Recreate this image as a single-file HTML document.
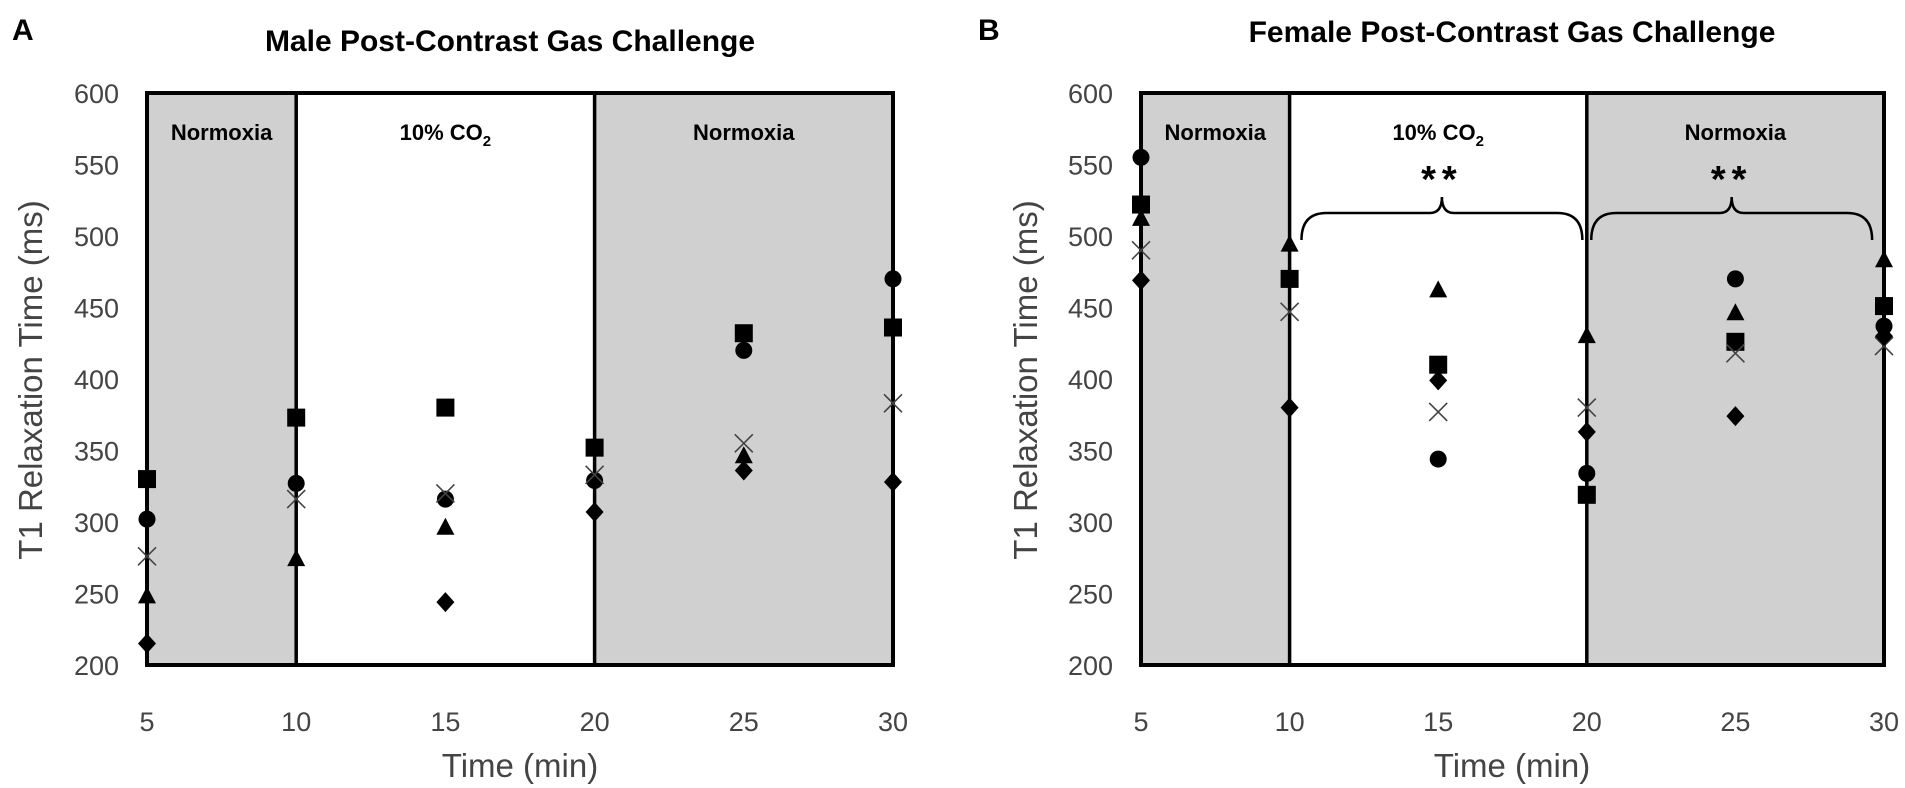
<!DOCTYPE html>
<html><head><meta charset="utf-8"><style>
html,body{margin:0;padding:0;background:#fff;width:1905px;height:788px;overflow:hidden}
svg text{font-family:"Liberation Sans",sans-serif}
</style></head><body>
<svg id="s" width="1905" height="788" viewBox="0 0 1905 788" xmlns="http://www.w3.org/2000/svg">
<text x="12" y="40" font-size="30" font-weight="bold">A</text>
<text x="978" y="40" font-size="30" font-weight="bold">B</text>
<text x="510" y="51" font-size="30" font-weight="bold" text-anchor="middle">Male Post-Contrast Gas Challenge</text>
<text x="1512" y="42" font-size="30" font-weight="bold" text-anchor="middle">Female Post-Contrast Gas Challenge</text>
<text transform="translate(42,380) rotate(-90)" font-size="33" fill="#444" text-anchor="middle">T1 Relaxation Time (ms)</text>
<text transform="translate(1037,380) rotate(-90)" font-size="33" fill="#444" text-anchor="middle">T1 Relaxation Time (ms)</text>
<text x="520" y="777" font-size="33" fill="#444" text-anchor="middle">Time (min)</text>
<text x="1512" y="777" font-size="33" fill="#444" text-anchor="middle">Time (min)</text>
<g id="g"></g>
</svg>
<script>
var NS="http://www.w3.org/2000/svg",g=document.getElementById('g');
function el(t,a,txt){var e=document.createElementNS(NS,t);for(var k in a)e.setAttribute(k,a[k]);if(txt!==undefined)e.textContent=txt;g.appendChild(e);return e;}
function panel(x0,dx,stars,data){
 var X=function(t){return x0+(t-5)*dx},Y=function(v){return 93+(600-v)*1.43};
 el('rect',{x:X(5),y:Y(600),width:X(10)-X(5),height:Y(200)-Y(600),fill:'#d0d0d0'});
 el('rect',{x:X(20),y:Y(600),width:X(30)-X(20),height:Y(200)-Y(600),fill:'#d0d0d0'});
 el('rect',{x:X(5),y:Y(600),width:X(30)-X(5),height:Y(200)-Y(600),fill:'none',stroke:'#000','stroke-width':4});
 [10,20].forEach(function(t){el('line',{x1:X(t),x2:X(t),y1:Y(600),y2:Y(200),stroke:'#000','stroke-width':3.5})});
 for(var v=200;v<=600;v+=50)el('text',{x:X(5)-28,y:Y(v)+10,'font-size':27,fill:'#444','text-anchor':'end'},v);
 for(var tt=5;tt<=30;tt+=5)el('text',{x:X(tt),y:731,'font-size':27,fill:'#444','text-anchor':'middle'},tt);
 el('text',{x:X(7.5),y:140,'font-size':22,'font-weight':'bold','text-anchor':'middle'},'Normoxia');
 el('text',{x:X(25),y:140,'font-size':22,'font-weight':'bold','text-anchor':'middle'},'Normoxia');
 var c=el('text',{x:X(15),y:140,'font-size':22,'font-weight':'bold','text-anchor':'middle'},'10% CO');
 var sub=document.createElementNS(NS,'tspan');sub.setAttribute('font-size','15');sub.setAttribute('dy','6');sub.textContent='2';c.appendChild(sub);
 if(stars){
  [[10.4,19.85],[20.15,29.6]].forEach(function(r){
   var a=X(r[0]),b=X(r[1]),m=(a+b)/2,yb=240,yt=213,ym=197;
   el('path',{d:'M'+a+' '+yb+' Q'+a+' '+yt+' '+(a+25)+' '+yt+' L'+(m-12)+' '+yt+' Q'+m+' '+yt+' '+m+' '+ym+' Q'+m+' '+yt+' '+(m+12)+' '+yt+' L'+(b-25)+' '+yt+' Q'+b+' '+yt+' '+b+' '+yb,fill:'none',stroke:'#000','stroke-width':2.5});
   el('text',{x:m,y:192,'font-size':38,'font-weight':'bold','text-anchor':'middle','letter-spacing':'6'},'**');
  });
 }
 data.forEach(function(d){
  var t=d[0],ms=['sq','ci','x','tr','di'];
  for(var i=0;i<5;i++){var v=d[i+1];if(v==null)continue;var x=X(t),y=Y(v);
   switch(ms[i]){
    case 'sq':el('rect',{x:x-9,y:y-9,width:18,height:18,fill:'#000'});break;
    case 'ci':el('circle',{cx:x,cy:y,r:8.5,fill:'#000'});break;
    case 'x':el('path',{d:'M'+(x-9)+' '+(y-9)+'L'+(x+9)+' '+(y+9)+'M'+(x+9)+' '+(y-9)+'L'+(x-9)+' '+(y+9),stroke:'#444','stroke-width':1.6,fill:'none'});break;
    case 'tr':el('path',{d:'M'+x+' '+(y-10)+'L'+(x+9)+' '+(y+7)+'L'+(x-9)+' '+(y+7)+'Z',fill:'#000'});break;
    case 'di':el('path',{d:'M'+x+' '+(y-10)+'L'+(x+9)+' '+y+'L'+x+' '+(y+10)+'L'+(x-9)+' '+y+'Z',fill:'#000'});break;
   }}
 });
}
// [t, square, circle, x, triangle, diamond]
panel(147,29.84,false,[
 [5,330,302,276,248,215],[10,373,327,316,274,null],[15,380,316,320,296,244],
 [20,352,329,333,null,307],[25,432,420,355,346,336],[30,436,470,383,null,328]]);
panel(1141,29.72,true,[
 [5,522,555,490,512,469],[10,470,null,447,494,380],[15,410,344,377,462,399],
 [20,319,334,380,430,363],[25,426,470,418,446,374],[30,451,437,423,483,430]]);
</script>
</body></html>
